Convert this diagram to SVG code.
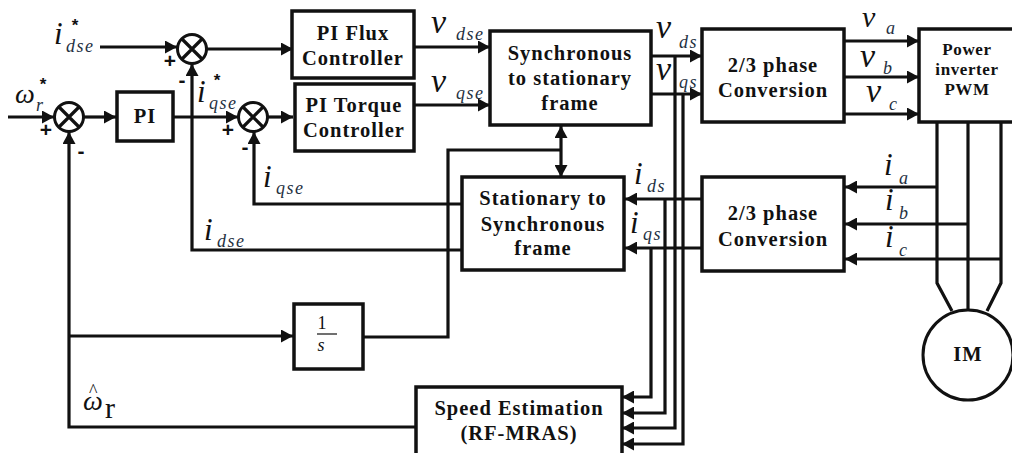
<svg xmlns="http://www.w3.org/2000/svg" width="1012" height="453" viewBox="0 0 1012 453">
<style>
.b{fill:#fff;stroke:#111;stroke-width:3.5}
.c{fill:none;stroke:#111;stroke-width:3.2}
.s{fill:#fff;stroke:#111;stroke-width:3}
.t{font-family:"Liberation Serif",serif;font-weight:bold;font-size:20.5px;fill:#111;text-anchor:middle;letter-spacing:1px}
.t2{font-size:17px;letter-spacing:.6px}
.m{font-family:"Liberation Serif",serif;font-style:italic;font-size:31px;fill:#111}
.v{font-size:34px}
.w{font-size:28px}
.n{font-family:"Liberation Serif",serif;font-style:italic;font-size:18px;fill:#24303f;letter-spacing:1.5px}
.p{font-family:"Liberation Sans",sans-serif;font-weight:bold;font-size:21px;fill:#111;text-anchor:middle}
.st{font-size:17px}
.f{font-family:"Liberation Serif",serif;font-size:18px;fill:#111;text-anchor:middle}
</style>
<defs>
<marker id="a" markerUnits="userSpaceOnUse" markerWidth="13" markerHeight="13" refX="12" refY="6.5" orient="auto-start-reverse"><path d="M0 0L12 6.5L0 13z" fill="#111"/></marker>
</defs>
<g id="connectors">
<path class="c" d="M100 47H177" marker-end="url(#a)"/>
<path class="c" d="M207 49H293" marker-end="url(#a)"/>
<path class="c" d="M8 117H54" marker-end="url(#a)"/>
<path class="c" d="M84 117H116" marker-end="url(#a)"/>
<path class="c" d="M173 117H238" marker-end="url(#a)"/>
<path class="c" d="M268 117H293" marker-end="url(#a)"/>
<path class="c" d="M414 47H490" marker-end="url(#a)"/>
<path class="c" d="M414 105H490" marker-end="url(#a)"/>
<path class="c" d="M651 56H702" marker-end="url(#a)"/>
<path class="c" d="M651 94H702" marker-end="url(#a)"/>
<path class="c" d="M844 41H919" marker-end="url(#a)"/>
<path class="c" d="M844 77H919" marker-end="url(#a)"/>
<path class="c" d="M844 114H919" marker-end="url(#a)"/>
<path class="c" d="M937 187H845" marker-end="url(#a)"/>
<path class="c" d="M968 224H845" marker-end="url(#a)"/>
<path class="c" d="M1001 259H845" marker-end="url(#a)"/>
<path class="c" d="M702 199H625" marker-end="url(#a)"/>
<path class="c" d="M702 248H625" marker-end="url(#a)"/>
<path class="c" d="M462 204H254V132" marker-end="url(#a)"/>
<path class="c" d="M462 250H192V64" marker-end="url(#a)"/>
<path class="c" d="M416 427H69V132" marker-end="url(#a)"/>
<path class="c" d="M69 336H293" marker-end="url(#a)"/>
<path class="c" d="M363 337H448V150H561"/>
<path class="c" d="M561 126V177" marker-start="url(#a)" marker-end="url(#a)"/>
<path class="c" d="M651 248V397H622" marker-end="url(#a)"/>
<path class="c" d="M665 199V413H622" marker-end="url(#a)"/>
<path class="c" d="M675 56V428H622" marker-end="url(#a)"/>
<path class="c" d="M683 94V444H622" marker-end="url(#a)"/>
<path class="c" d="M937 122V283L952 311"/>
<path class="c" d="M968 122V310"/>
<path class="c" d="M1001 122V283L987 311"/>
</g>
<g id="sum1"><circle class="s" cx="192" cy="49" r="14.5"/><path class="c" d="M182 39L202 59M202 39L182 59"/></g>
<g id="sum2"><circle class="s" cx="69" cy="117" r="14.5"/><path class="c" d="M59 107L79 127M79 107L59 127"/></g>
<g id="sum3"><circle class="s" cx="253" cy="117" r="14.5"/><path class="c" d="M243 107L263 127M263 107L243 127"/></g>
<g id="pi"><rect class="b" x="117" y="92" width="56" height="49"/><text class="t" x="145" y="123">PI</text></g>
<g id="flux"><rect class="b" x="292" y="11" width="122" height="67"/><text class="t" x="353" y="40">PI Flux</text><text class="t" x="353" y="65">Controller</text></g>
<g id="torque"><rect class="b" x="295" y="84" width="119" height="67"/><text class="t" x="354" y="112">PI Torque</text><text class="t" x="354" y="137">Controller</text></g>
<g id="sync"><rect class="b" x="490" y="31" width="161" height="94"/><text class="t" x="570" y="60">Synchronous</text><text class="t" x="570" y="85">to stationary</text><text class="t" x="570" y="110">frame</text></g>
<g id="conv1"><rect class="b" x="702" y="29" width="142" height="93"/><text class="t" x="773" y="72">2/3 phase</text><text class="t" x="773" y="97">Conversion</text></g>
<g id="inverter"><rect class="b" x="919" y="29" width="95" height="93"/><text class="t t2" x="967" y="55">Power</text><text class="t t2" x="967" y="75">inverter</text><text class="t t2" x="967" y="95">PWM</text></g>
<g id="conv2"><rect class="b" x="702" y="177" width="142" height="94"/><text class="t" x="773" y="220">2/3 phase</text><text class="t" x="773" y="246">Conversion</text></g>
<g id="stat"><rect class="b" x="462" y="177" width="162" height="93"/><text class="t" x="543" y="205">Stationary to</text><text class="t" x="543" y="231">Synchronous</text><text class="t" x="543" y="255">frame</text></g>
<g id="int"><rect class="b" x="294" y="304" width="69" height="65"/><text class="f" x="322" y="329">1</text><path d="M317 334H337" stroke="#111" stroke-width="1.2"/><text class="f" x="321" y="351" font-style="italic">s</text></g>
<g id="speed"><rect class="b" x="416" y="387" width="206" height="68"/><text class="t" x="519" y="415">Speed Estimation</text><text class="t" x="519" y="440">(RF-MRAS)</text></g>
<g id="im"><circle class="s" cx="968" cy="355" r="45"/><text class="t" x="968" y="361">IM</text></g>
<g id="labels">
<text class="m" x="54" y="44">i</text><text class="n" x="66" y="52">dse</text><text class="p st" x="75" y="31">*</text>
<text class="m w" x="15" y="103">ω</text><text class="n" x="36" y="111">r</text><text class="p st" x="43" y="90">*</text>
<text class="m" x="197" y="102">i</text><text class="n" x="209" y="109">qse</text><text class="p st" x="217" y="86">*</text>
<text class="m" x="263" y="187">i</text><text class="n" x="276" y="194">qse</text>
<text class="m" x="204" y="240">i</text><text class="n" x="217" y="247">dse</text>
<text class="p" x="170" y="68">+</text><text class="p" x="46" y="137">+</text><text class="p" x="228" y="137">+</text>
<text class="p" x="182" y="87">-</text><text class="p" x="81" y="158">-</text><text class="p" x="245" y="154">-</text>
<text class="m v" x="431" y="33">v</text><text class="n" x="456" y="40">dse</text>
<text class="m v" x="431" y="92">v</text><text class="n" x="456" y="99">qse</text>
<text class="m v" x="656" y="38">v</text><text class="n" x="679" y="48">ds</text>
<text class="m v" x="656" y="80">v</text><text class="n" x="679" y="88">qs</text>
<text class="m" font-size="30" x="862" y="27" style="font-size:30px">v</text><text class="n" x="886" y="34">a</text>
<text class="m v" x="860" y="67">v</text><text class="n" x="883" y="74">b</text>
<text class="m v" x="866" y="102">v</text><text class="n" x="889" y="110">c</text>
<text class="m" x="884" y="175">i</text><text class="n" x="899" y="184">a</text>
<text class="m" x="885" y="210">i</text><text class="n" x="899" y="219">b</text>
<text class="m" x="885" y="247">i</text><text class="n" x="899" y="256">c</text>
<text class="m" x="634" y="184">i</text><text class="n" x="647" y="192">ds</text>
<text class="m" x="630" y="233">i</text><text class="n" x="643" y="240">qs</text>
<text class="m w" x="83" y="410">ω</text><text x="89" y="397" font-family="Liberation Serif,serif" font-size="18" fill="#111">^</text><text x="105" y="418" font-family="Liberation Serif,serif" font-size="30" fill="#111">r</text>
</g>
</svg>
